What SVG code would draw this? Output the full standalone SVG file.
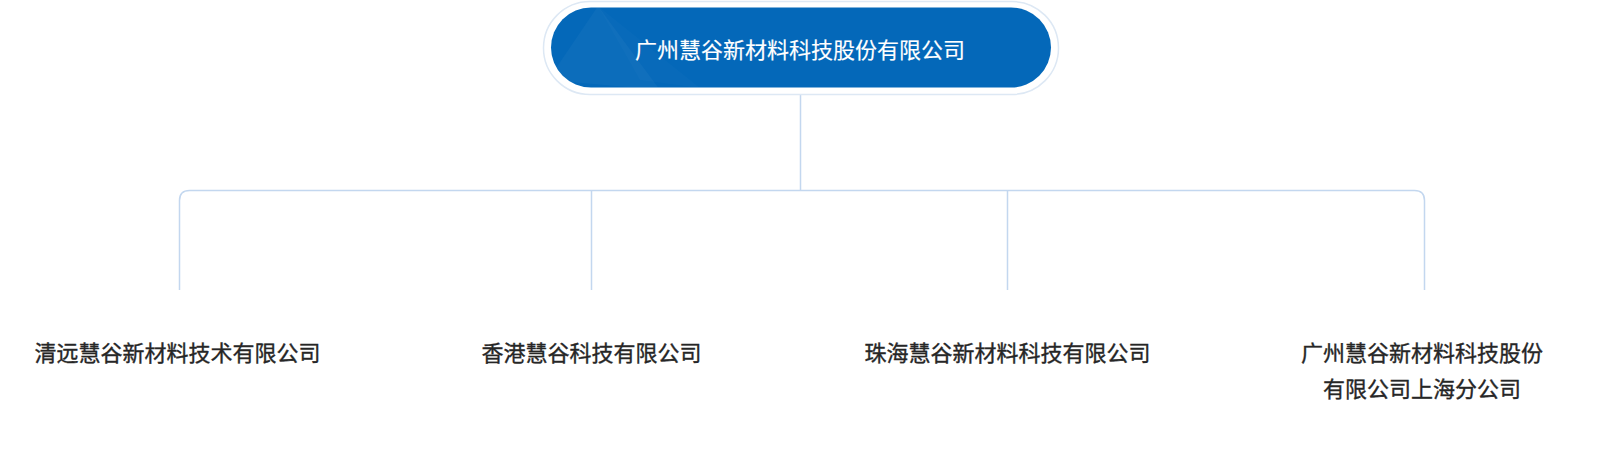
<svg xmlns="http://www.w3.org/2000/svg" width="1600" height="451" viewBox="0 0 1600 451">
  <style>
    .conn { fill: none; stroke: #C3D7EF; stroke-width: 1.5; }
    .child { font-family: "Noto Sans CJK SC", "Noto Sans", sans-serif; font-size: 22px; font-weight: 400; fill: #262626; stroke: #262626; stroke-width: 0.35; text-anchor: middle; dominant-baseline: central; }
    .title { font-family: "Noto Sans CJK SC", "Noto Sans", sans-serif; font-size: 22px; font-weight: 400; fill: #ffffff; stroke: #ffffff; stroke-width: 0.15; text-anchor: middle; dominant-baseline: central; }
  </style>
  <defs>
    <clipPath id="pillClip">
      <rect x="551" y="7.5" width="500" height="80" rx="40" ry="40"/>
    </clipPath>
  </defs>
  <rect width="1600" height="451" fill="#ffffff"/>
  <g id="connectors">
    <line class="conn" x1="800.5" y1="95" x2="800.5" y2="190.5"/>
    <path class="conn" d="M179.5 290 V200.5 Q179.5 190.5 189.5 190.5 H1414.5 Q1424.5 190.5 1424.5 200.5 V290"/>
    <line class="conn" x1="591.5" y1="190.5" x2="591.5" y2="290"/>
    <line class="conn" x1="1007.5" y1="190.5" x2="1007.5" y2="290"/>
  </g>
  <g id="root">
    <rect x="543.5" y="1.5" width="515" height="93" rx="46.5" ry="46.5" fill="#ffffff" stroke="#DDE8F4" stroke-width="1.5"/>
    <rect x="551" y="7.5" width="500" height="80" rx="40" ry="40" fill="#0468B9"/>
    <g clip-path="url(#pillClip)">
      <polygon points="598,6 548,80 660,90" fill="#ffffff" opacity="0.035"/>
      <polygon points="598,6 640,80 700,88" fill="#ffffff" opacity="0.02"/>
    </g>
    <text class="title" x="800" y="47.5">广州慧谷新材料科技股份有限公司</text>
  </g>
  <g id="child1">
    <text class="child" x="177.5" y="351">清远慧谷新材料技术有限公司</text>
  </g>
  <g id="child2">
    <text class="child" x="591.5" y="351">香港慧谷科技有限公司</text>
  </g>
  <g id="child3">
    <text class="child" x="1007.5" y="351">珠海慧谷新材料科技有限公司</text>
  </g>
  <g id="child4">
    <text class="child" x="1422" y="351">广州慧谷新材料科技股份</text>
    <text class="child" x="1422" y="387">有限公司上海分公司</text>
  </g>
</svg>
